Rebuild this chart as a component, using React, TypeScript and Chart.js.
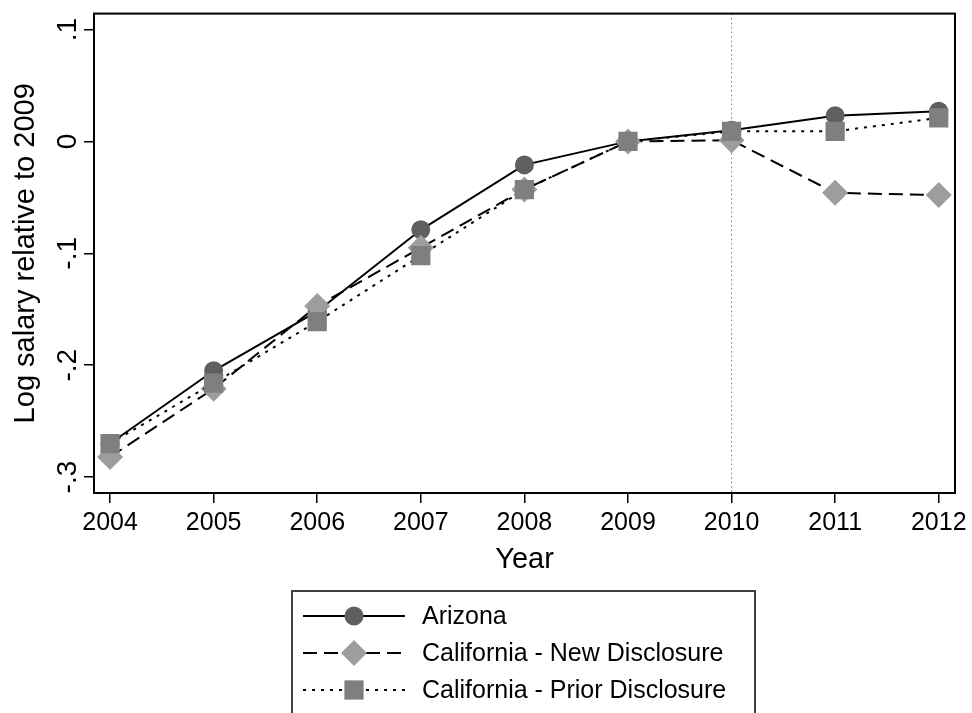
import React, { useEffect, useRef } from 'react';
import { Chart, registerables } from 'chart.js';

Chart.register(...registerables);

const years = [2004, 2005, 2006, 2007, 2008, 2009, 2010, 2011, 2012];
const arizona = [-0.27, -0.205, -0.152, -0.079, -0.021, 0, 0.01, 0.023, 0.027];
const caNew = [-0.282, -0.221, -0.147, -0.095, -0.043, 0, 0.001, -0.046, -0.048];
const caPrior = [-0.27, -0.216, -0.161, -0.102, -0.043, 0, 0.009, 0.009, 0.021];
const seriesNames = ['Arizona', 'California - New Disclosure', 'California - Prior Disclosure'];
const yTicks = [-0.3, -0.2, -0.1, 0, 0.1];
const yTickLabels = ['-.3', '-.2', '-.1', '0', '.1'];
const xTickLabels = years.map((y) => String(y));
const eventYear = 2010;
const xTitle = 'Year';
const yTitle = 'Log salary relative to 2009';

const FONT = '"Liberation Sans", Arial, Helvetica, sans-serif';
const C_CIRCLE = '#5f5f5f';
const C_DIAMOND = '#9d9d9d';
const C_SQUARE = '#7f7f7f';
const DASH_NEW = [14, 7];
const DASH_PRIOR = [3, 6];

function drawMarker(ctx: CanvasRenderingContext2D, kind: number, x: number, y: number) {
  ctx.save();
  ctx.setLineDash([]);
  if (kind === 0) {
    ctx.fillStyle = C_CIRCLE;
    ctx.beginPath();
    ctx.arc(x, y, 9.5, 0, Math.PI * 2);
    ctx.fill();
  } else if (kind === 1) {
    ctx.fillStyle = C_DIAMOND;
    const r = 13;
    ctx.beginPath();
    ctx.moveTo(x, y - r);
    ctx.lineTo(x + r, y);
    ctx.lineTo(x, y + r);
    ctx.lineTo(x - r, y);
    ctx.closePath();
    ctx.fill();
  } else {
    ctx.fillStyle = C_SQUARE;
    ctx.fillRect(x - 9.6, y - 9.6, 19.2, 19.2);
  }
  ctx.restore();
}

const decorPlugin = {
  id: 'decor',
  beforeDatasetsDraw(chart: any) {
    const { ctx, chartArea, scales } = chart;
    const x = scales.x.getPixelForValue(eventYear);
    ctx.save();
    ctx.strokeStyle = '#7a7a7a';
    ctx.lineWidth = 1;
    ctx.setLineDash([1.5, 3]);
    ctx.beginPath();
    ctx.moveTo(x, chartArea.top);
    ctx.lineTo(x, chartArea.bottom);
    ctx.stroke();
    ctx.restore();
  },
  afterDraw(chart: any) {
    const { ctx, chartArea, scales } = chart;
    ctx.save();
    // frame
    ctx.strokeStyle = '#000';
    ctx.lineWidth = 2;
    ctx.setLineDash([]);
    ctx.strokeRect(chartArea.left, chartArea.top, chartArea.right - chartArea.left, chartArea.bottom - chartArea.top);

    ctx.fillStyle = '#000';
    // y tick labels (rotated)
    ctx.font = `28px ${FONT}`;
    ctx.textAlign = 'center';
    ctx.textBaseline = 'alphabetic';
    yTicks.forEach((v, i) => {
      const y = scales.y.getPixelForValue(v);
      ctx.save();
      ctx.translate(76, y);
      ctx.rotate(-Math.PI / 2);
      ctx.fillText(yTickLabels[i], 0, 0);
      ctx.restore();
    });
    // x tick labels
    ctx.font = `25px ${FONT}`;
    years.forEach((v, i) => {
      const x = scales.x.getPixelForValue(v);
      ctx.fillText(xTickLabels[i], x, 530);
    });
    // axis titles
    ctx.font = `29px ${FONT}`;
    ctx.fillText(xTitle, (chartArea.left + chartArea.right) / 2, 568);
    ctx.save();
    ctx.translate(34, (chartArea.top + chartArea.bottom) / 2);
    ctx.rotate(-Math.PI / 2);
    ctx.fillText(yTitle, 0, 0);
    ctx.restore();

    // legend
    ctx.strokeStyle = '#404040';
    ctx.lineWidth = 2;
    ctx.strokeRect(292, 591, 463, 200);
    const rows = [616, 653, 690];
    const dashes = [[], DASH_NEW, DASH_PRIOR];
    rows.forEach((ry, i) => {
      ctx.save();
      ctx.strokeStyle = '#000';
      ctx.lineWidth = 2;
      ctx.setLineDash(dashes[i]);
      ctx.beginPath();
      ctx.moveTo(303, ry);
      ctx.lineTo(405, ry);
      ctx.stroke();
      ctx.restore();
      drawMarker(ctx, i, 354, ry);
      ctx.fillStyle = '#000';
      ctx.font = `25px ${FONT}`;
      ctx.textAlign = 'left';
      ctx.textBaseline = 'middle';
      ctx.fillText(seriesNames[i], 422, ry + 1);
    });
    ctx.restore();
  },
};

export default function App() {
  const ref = useRef<HTMLCanvasElement | null>(null);
  useEffect(() => {
    document.body.style.margin = '0';
    const canvas = ref.current!;
    const mk = (arr: number[]) => years.map((x, i) => ({ x, y: arr[i] }));
    const chart = new Chart(canvas, {
      type: 'line',
      data: {
        datasets: [
          {
            label: seriesNames[0],
            data: mk(arizona),
            borderColor: '#000',
            borderWidth: 2,
            pointStyle: 'circle',
            pointRadius: 9.5,
            pointBackgroundColor: C_CIRCLE,
            pointBorderWidth: 0,
            order: 3,
          },
          {
            label: seriesNames[1],
            data: mk(caNew),
            borderColor: '#000',
            borderWidth: 2,
            borderDash: DASH_NEW,
            pointStyle: 'rectRot',
            pointRadius: 13,
            pointBackgroundColor: C_DIAMOND,
            pointBorderWidth: 0,
            order: 2,
          },
          {
            label: seriesNames[2],
            data: mk(caPrior),
            borderColor: '#000',
            borderWidth: 2,
            borderDash: DASH_PRIOR,
            pointStyle: 'rect',
            pointRadius: 13.6,
            pointBackgroundColor: C_SQUARE,
            pointBorderWidth: 0,
            order: 1,
          },
        ],
      },
      options: {
        responsive: false,
        animation: false,
        devicePixelRatio: 1,
        layout: { padding: { top: 10, right: 17, left: 0, bottom: 0 } },
        plugins: { legend: { display: false }, tooltip: { enabled: false } },
        scales: {
          x: {
            type: 'linear',
            min: 2003.845,
            max: 2012.157,
            afterBuildTicks: (s: any) => {
              s.ticks = years.map((v) => ({ value: v }));
            },
            afterFit: (s: any) => {
              s.height = 220;
              s.paddingLeft = 0;
              s.paddingRight = 0;
            },
            ticks: { display: false },
            grid: { drawOnChartArea: false, drawTicks: true, tickLength: 10, color: '#000', lineWidth: 1.5 },
            border: { display: true, color: '#000', width: 2 },
          },
          y: {
            type: 'linear',
            min: -0.3142,
            max: 0.1142,
            afterBuildTicks: (s: any) => {
              s.ticks = yTicks.map((v) => ({ value: v }));
            },
            afterFit: (s: any) => {
              s.width = 94;
              s.paddingTop = 0;
              s.paddingBottom = 0;
            },
            ticks: { display: false },
            grid: { drawOnChartArea: false, drawTicks: true, tickLength: 10, color: '#000', lineWidth: 1.5 },
            border: { display: true, color: '#000', width: 2 },
          },
        },
      },
      plugins: [decorPlugin],
    } as any);
    return () => chart.destroy();
  }, []);
  return <canvas ref={ref} width={972} height={713} style={{ display: 'block' }} />;
}
